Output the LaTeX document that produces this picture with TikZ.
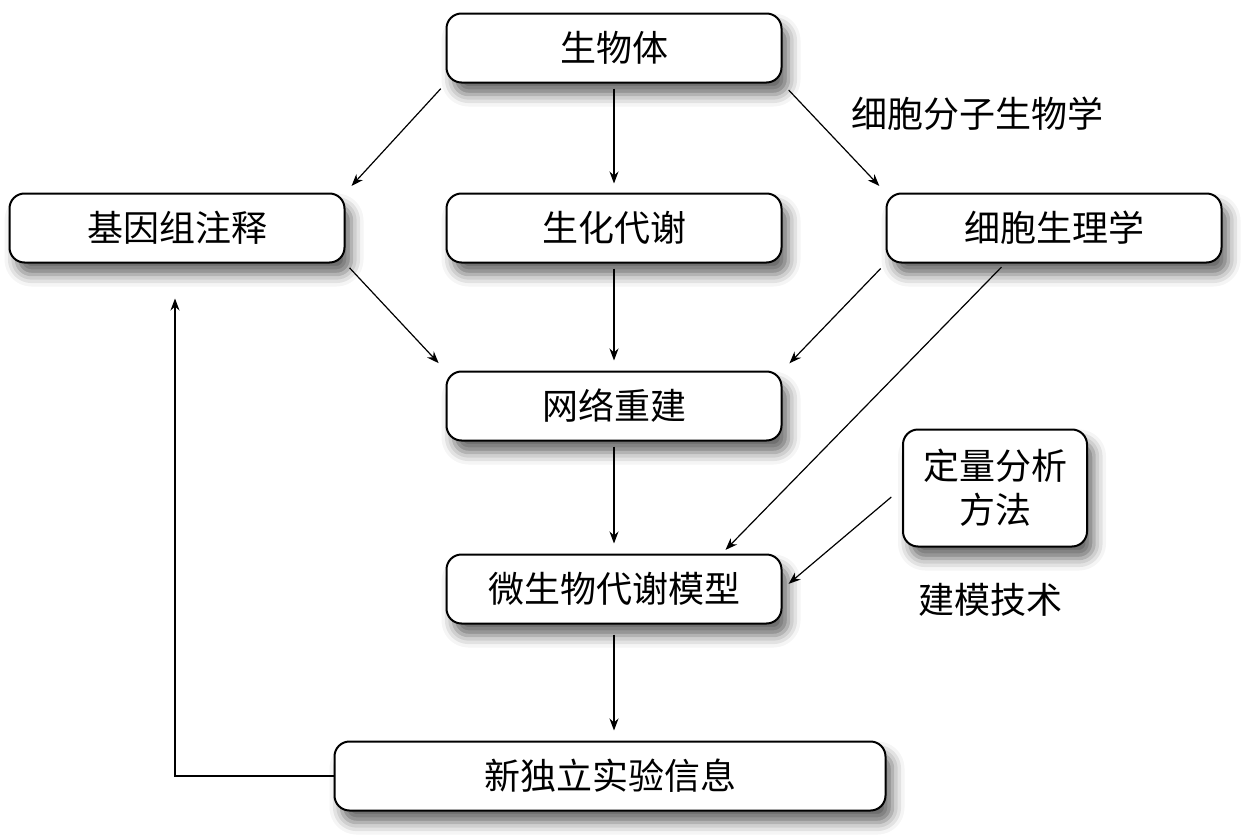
\documentclass[tikz,border=0pt]{standalone}
\usepackage{fontspec}
\setmainfont{Noto Sans CJK SC}
\usepackage{tikz}
\usetikzlibrary{arrows.meta, positioning, shadows.blur}
\tikzstyle{blk} = [rectangle, rounded corners=7.5pt, draw=black, line width=1pt, fill=white, minimum width=167.5pt, minimum height=34.5pt, inner sep=0pt, text centered, blur shadow={shadow xshift=3.5pt, shadow yshift=-6pt, shadow blur radius=6pt, shadow opacity=60}]
\tikzstyle{lbl} = [text centered, inner sep=0pt]
\tikzstyle{arr} = [-{Stealth[length=6pt, width=4.5pt]}, line width=0.6pt]

\begin{document}
\begin{tikzpicture}[x=0.5pt, y=-0.5pt, node distance=90pt, font=\fontsize{18pt}{22pt}\selectfont]
\useasboundingbox (0,0) rectangle (1260,835);
\node (body) [blk] at (614,48) {生物体};
\node (genome) [blk, below of=body, xshift=-218.5pt] {基因组注释};
\node (biochem) [blk, below of=body] {生化代谢};
\node (physio) [blk, below of=body, xshift=220pt] {细胞生理学};
\node (network) [blk, below of=biochem, yshift=1pt] {网络重建};
\node (model) [blk, below of=network, yshift=-1.5pt] {微生物代谢模型};
\node (newinfo) [blk, minimum width=275.5pt, below of=model, xshift=-2pt, yshift=-3.5pt] {新独立实验信息};
\node (quant) [blk, minimum width=92pt, minimum height=58.5pt, align=center] at (995,488) {定量分析\\方法};
\node (cellbio) [lbl] at (977,114) {细胞分子生物学};
\node (modtech) [lbl] at (990,600) {建模技术};
\draw [arr, shorten <=3.5pt, shorten >=4.5pt] (body.south west) -- (genome.north east);
\draw [arr, shorten <=2.5pt, shorten >=4.5pt] (body) -- (biochem);
\draw [arr, shorten <=4.5pt, shorten >=4.5pt] (body.south east) -- (physio.north west);
\draw [arr, shorten <=3pt, shorten >=5pt] (genome.south east) -- (network.north west);
\draw [arr, shorten <=2.5pt, shorten >=5pt] (biochem) -- (network);
\draw [arr, shorten <=3.5pt, shorten >=5pt] (physio.south west) -- (network.north east);
\draw [arr, shorten <=2.5pt, shorten >=2.5pt] ([xshift=-24.5pt]physio.south) -- ([xshift=54pt]model.north);
\draw [arr, shorten <=2.5pt, shorten >=5pt] (network) -- (model);
\draw [arr, shorten <=7pt, shorten >=4pt] (quant.west) -- (model.east);
\draw [arr, shorten <=5pt, shorten >=5pt] (model) -- (model |- newinfo.north);
\draw [arr, shorten >=17.5pt] (newinfo.west) -| ([xshift=-1pt]genome.south);
\end{tikzpicture}
\end{document}
